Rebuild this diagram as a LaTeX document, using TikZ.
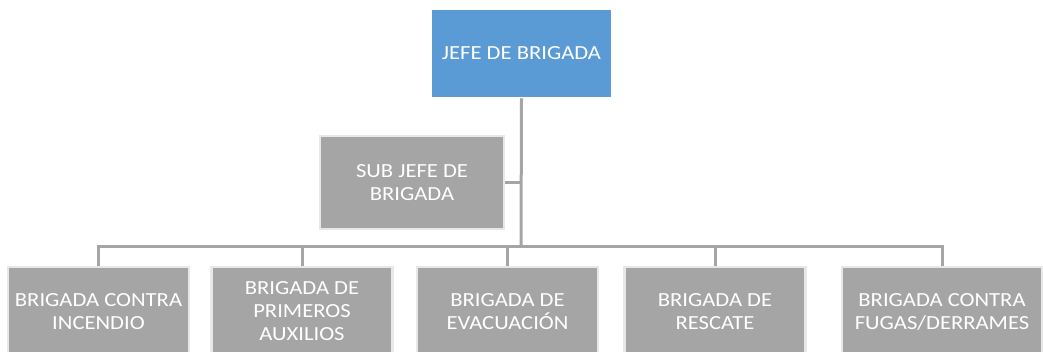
\documentclass[tikz,border=0pt]{standalone}
\usepackage{fontspec}
\setmainfont{Carlito}[FakeStretch=1.13]
\definecolor{boxblue}{HTML}{5B9BD5}
\definecolor{boxgray}{HTML}{A5A5A5}
\definecolor{edgegray}{HTML}{E8E8E8}
\begin{document}
\begin{tikzpicture}[x=1pt,y=-1pt,
  orgbox/.style={rectangle, align=center, text=white, inner sep=0pt,
    font=\fontsize{20}{23}\selectfont},
  topbox/.style={orgbox, fill=boxblue, draw=white, line width=1.5pt, minimum width=180, minimum height=88},
  graybox/.style={orgbox, fill=boxgray, draw=edgegray, line width=2.5pt},
  subbox/.style={graybox, minimum width=184, minimum height=93},
  lowbox/.style={graybox, minimum width=181, minimum height=89},
  link/.style={draw=boxgray, line width=3pt}]
\useasboundingbox (0,0) rectangle (1043,351);
\fill[white] (0,0) rectangle (1043,351);
\node[topbox] (jefe) at (521.5,53.5) {JEFE DE BRIGADA};
\node[subbox] (sub) at (412,182.5) {SUB JEFE DE\\BRIGADA};
\node[lowbox] (b1) at (98.5,311.5) {BRIGADA CONTRA\\INCENDIO};
\node[lowbox] (b2) at (302,311.5) {BRIGADA DE\\PRIMEROS\\AUXILIOS};
\node[lowbox] (b3) at (507.5,311.5) {BRIGADA DE\\EVACUACIÓN};
\node[lowbox] (b4) at (715,311.5) {BRIGADA DE\\RESCATE};
\node[lowbox, minimum width=200] (b5) at (942,311.5) {BRIGADA CONTRA\\FUGAS/DERRAMES};
\coordinate (bar) at (521,246);
\draw[link] (jefe.south) -- (bar);
\draw[link] (sub.east) -- (sub.east -| bar);
\draw[link] (b1.north) |- (bar);
\draw[link] (b5.north) |- (bar);
\draw[link] (b2.north) -- (b2.north |- bar);
\draw[link] (b3.north) -- (b3.north |- bar);
\draw[link] (b4.north) -- (b4.north |- bar);
\end{tikzpicture}
\end{document}
